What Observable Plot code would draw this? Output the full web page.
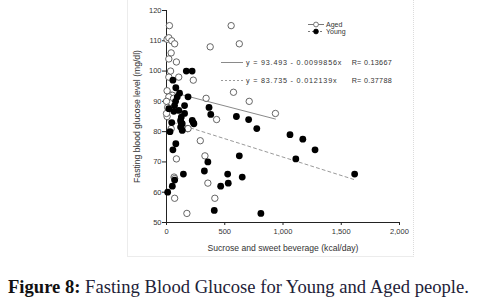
<!DOCTYPE html>
<html>
<head>
<meta charset="utf-8">
<script src="https://cdn.jsdelivr.net/npm/d3@7"></script>
<script src="https://cdn.jsdelivr.net/npm/@observablehq/plot@0.6"></script>
<style>
  html, body { margin: 0; padding: 0; background: #fff; }
  #fig { position: relative; width: 478px; height: 305px; overflow: hidden; }
  #chart { position: absolute; left: 0; top: 0; }
  #box { position: absolute; left: 127px; top: -2px; width: 285px; height: 258px;
         border-left: 1px solid #ececec; border-right: 1px dotted #dcdcdc; border-bottom: 1px solid #ececec; }
  #overlay { position: absolute; left: 0; top: 0; }
  #caption { position: absolute; left: 8px; top: 276px; white-space: nowrap;
             font-family: "Liberation Serif", "DejaVu Serif", serif; font-size: 18.6px; color: #1e2238; }
  #caption b { color: #111; }
</style>
</head>
<body>
<div id="fig">
  <div id="box"></div>
  <div id="chart"></div>
  <svg id="overlay" width="478" height="262"></svg>
  <div id="caption"><b>Figure 8:</b> Fasting Blood Glucose for Young and Aged people.</div>
</div>
<script>
// ---- data ----
const agedX = [25, 5, 20, 45, 70, 40, 20, 85, 35, 20, 105, 230, 555, 625, 375, 575, 710, 340, 935, 430,
               50, 20, 5, 0, 60, 5, 0, 10, 180, 40, 185, 290, 330, 85, 65, 70, 355, 70, 415, 175];
const agedY = [115, 110.5, 111, 110, 109, 106, 104, 103, 100, 98, 98, 97, 115, 109, 108, 93, 90, 91, 86, 84,
               92, 91.5, 93.5, 90, 91, 85, 86, 88, 81, 81, 81, 77, 72, 71, 65, 64.5, 63, 58, 58, 53];

const youngX = [170, 220, 55, 80, 112, 92, 78, 69, 185, 20, 63, 106, 155, 155, 127, 121, 135, 121, 135, 221,
                235, 365, 380, 45, 125, 230, 30, 600, 705, 775, 1060, 1170, 1275, 1110, 1615, 810, 80, 55, 355, 625,
                145, 325, 525, 530, 465, 650, 70, 50, 10, 410];
const youngY = [100, 100, 97, 94.5, 92.7, 91.4, 90, 88.6, 91.5, 87.6, 86.7, 87, 88.6, 86, 84.8, 83.7, 82.6, 81.5, 80.4, 83.7,
                82.6, 88, 85.7, 83, 83, 83, 80, 85, 84, 81, 79, 77.5, 74, 71, 66, 53, 76, 74, 70, 72,
                66, 67, 66, 63, 62, 65, 64, 62, 60, 54];

// regression equations printed on the chart
const fitGroups = ["Aged", "Young"];
const fitIntercepts = [93.493, 83.735];
const fitSlopes = [-0.0099856, -0.012139];
const fitR = ["0.13667", "0.37788"];

const xTicks = [0, 500, 1000, 1500, 2000];
const xTickLabels = ["0", "500", "1,000", "1,500", "2,000"];
const yTicks = [50, 60, 70, 80, 90, 100, 110, 120];
const xLabel = "Sucrose and sweet beverage (kcal/day)";
const yLabel = "Fasting blood glucose level (mg/dl)";

// ---- build tables ----
const aged = agedX.map((x, i) => ({x, y: agedY[i]}));
const young = youngX.map((x, i) => ({x, y: youngY[i]}));
function fitLine(points, k) {
  const [x0, x1] = d3.extent(points, d => d.x);
  return [x0, x1].map(x => ({x, y: fitIntercepts[k] + fitSlopes[k] * x}));
}
const agedFit = fitLine(aged, 0);
const youngFit = fitLine(young, 1);

const font = "'Liberation Sans', Arial, sans-serif";

const chart = Plot.plot({
  width: 478, height: 262,
  marginLeft: 166, marginRight: 79, marginTop: 10, marginBottom: 40,
  x: {domain: [0, 2000]},
  y: {domain: [50, 120]},
  style: {fontFamily: font, fontSize: "7.5px", color: "#333", background: "transparent", overflow: "visible"},
  marks: [
    Plot.ruleX([0], {stroke: "#222", strokeWidth: 1}),
    Plot.ruleY([50], {stroke: "#222", strokeWidth: 1}),
    Plot.axisY({ticks: yTicks, tickSize: 4, tickPadding: 1, stroke: "#222", label: yLabel,
                labelAnchor: "center", labelArrow: "none", labelOffset: 33, fontSize: 7.5}),
    Plot.axisX({ticks: xTicks, tickSize: 3, tickPadding: 3, stroke: "#222",
                tickFormat: (d) => xTickLabels[xTicks.indexOf(d)],
                label: xLabel, labelAnchor: "center", labelArrow: "none", labelOffset: 28, fontSize: 7.5}),
    Plot.line(agedFit, {x: "x", y: "y", stroke: "#8a8a8a", strokeWidth: 1}),
    Plot.line(youngFit, {x: "x", y: "y", stroke: "#9a9a9a", strokeWidth: 1, strokeDasharray: "3,3"}),
    Plot.dot(aged, {x: "x", y: "y", r: 3.2, stroke: "#555", strokeWidth: 0.9, fill: "white"}),
    Plot.dot(young, {x: "x", y: "y", r: 3.4, fill: "#000", stroke: "none"})
  ]
});
document.getElementById("chart").appendChild(chart);

chart.querySelectorAll("[aria-label='y-axis label'] text, [aria-label='x-axis label'] text").forEach(t => {
  t.setAttribute("font-size", "8.6px");
});

// ---- legend & equations overlay ----
const ov = d3.select("#overlay");
const legendRows = [
  {name: fitGroups[0], dash: null, fill: "white", stroke: "#555"},
  {name: fitGroups[1], dash: "2,2", fill: "#000", stroke: "#000"}
];
legendRows.forEach((d, i) => {
  const cy = 24.5 + i * 7;
  ov.append("line").attr("x1", 308).attr("x2", 324).attr("y1", cy).attr("y2", cy)
    .attr("stroke", "#555").attr("stroke-width", 0.8).attr("stroke-dasharray", d.dash);
  ov.append("circle").attr("cx", 316).attr("cy", cy).attr("r", 2.4)
    .attr("fill", d.fill).attr("stroke", d.stroke).attr("stroke-width", 0.8);
  ov.append("text").attr("x", 326).attr("y", cy).attr("dy", "0.32em")
    .attr("font-family", font).attr("font-size", 7).attr("fill", "#333").text(d.name);
});
fitGroups.forEach((g, i) => {
  const cy = 62.5 + i * 18;
  ov.append("line").attr("x1", 221).attr("x2", 243).attr("y1", cy).attr("y2", cy)
    .attr("stroke", i ? "#9a9a9a" : "#8a8a8a").attr("stroke-width", 1).attr("stroke-dasharray", i ? "2,2" : null);
  const eq = `y = ${fitIntercepts[i]} - ${Math.abs(fitSlopes[i])}x`;
  ov.append("text").attr("x", 246).attr("y", cy).attr("dy", "0.35em")
    .attr("font-family", font).attr("font-size", 7.2).attr("letter-spacing", 0.8).attr("fill", "#333").text(eq);
  ov.append("text").attr("x", 392).attr("y", cy).attr("dy", "0.35em").attr("text-anchor", "end")
    .attr("font-family", font).attr("font-size", 7.2).attr("letter-spacing", 0.3).attr("fill", "#333").text(`R= ${fitR[i]}`);
});
</script>
</body>
</html>
